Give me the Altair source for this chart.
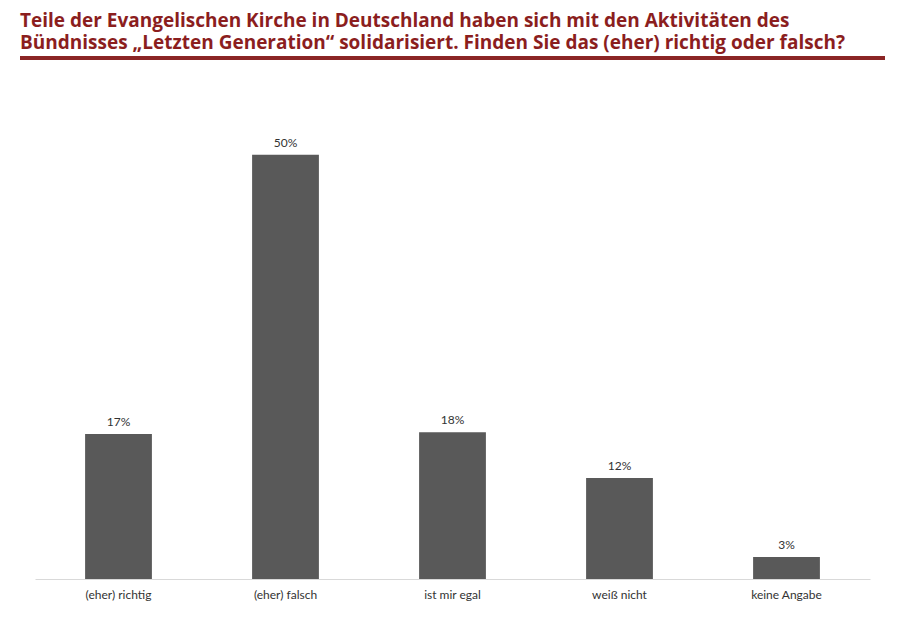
import altair as alt
import pandas as pd

categories = ["(eher) richtig", "(eher) falsch", "ist mir egal", "weiß nicht", "keine Angabe"]
values = [17.1, 50, 17.3, 11.9, 2.6]
labels = ["17%", "50%", "18%", "12%", "3%"]

title_lines = [
    "Teile der Evangelischen Kirche in Deutschland haben sich mit den Aktivitäten des",
    "Bündnisses „Letzten Generation“ solidarisiert. Finden Sie das (eher) richtig oder falsch?",
]

df = pd.DataFrame({"cat": categories, "val": values, "lab": labels})

x = alt.X("cat:N", sort=categories,
          scale=alt.Scale(paddingInner=0.6, paddingOuter=0.3),
          axis=alt.Axis(title=None, labelAngle=0, ticks=False, domainColor="#d9d9d9",
                        domainWidth=1, labelPadding=10, labelFontSize=12,
                        labelColor="#333333", labelFont="Lato"))
y = alt.Y("val:Q", scale=alt.Scale(domain=[0, 60]), axis=None)

bars = alt.Chart(df).mark_bar(color="#595959").encode(x=x, y=y)
text = alt.Chart(df).mark_text(dy=-12, fontSize=12, color="#333333", font="Lato").encode(
    x=alt.X("cat:N", sort=categories), y=y, text="lab:N")

rule = alt.Chart(pd.DataFrame({"a": [0]})).mark_rule(color="#8B2525", strokeWidth=4).encode(
    x=alt.value(-15), x2=alt.value(850), y=alt.value(-12))

chart = alt.layer(bars, text, rule).properties(
    width=835, height=509,
    autosize=alt.AutoSizeParams(type="none"),
    padding={"left": 27, "top": 62, "right": 22, "bottom": 40},
    title=alt.TitleParams(text=title_lines, anchor="start", frame="group", dx=-15, dy=15,
                          offset=18, fontSize=19, font="Open Sans", fontWeight="bold",
                          color="#8B1E1E", lineHeight=22),
).configure_view(stroke=None)

chart.save("out.html", embed_options={"renderer": "svg", "actions": False})
